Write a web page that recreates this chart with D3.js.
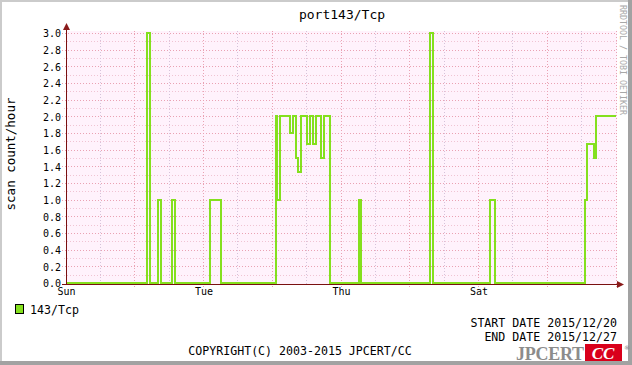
<!DOCTYPE html>
<html><head><meta charset="utf-8">
<script src="https://cdn.jsdelivr.net/npm/d3@7"></script>
<style>
body{margin:0;background:#fff}
svg{display:block}
text{font-family:"DejaVu Sans Mono",monospace}
</style>
</head><body>
<svg id="c" width="632" height="365"></svg>
<script>
// ---------- data ----------
const chartTitle = "port143/Tcp";
const yAxisTitle = "scan count/hour";
const seriesName = "143/Tcp";
// change points: hours since Sun 2015-12-20 00:00, value held from that hour on
const stepHours  = [0, 28.3, 29.2, 32.1, 33.05, 37.0, 37.95, 50.25, 54.0,
                    73.4, 73.7, 74.85, 78.2, 79.15, 80.3, 81.15, 81.9, 84.25, 85.2,
                    86.35, 87.3, 89.1, 90.05, 92.15, 102.4, 103.1, 127.1, 128.0,
                    148.0, 149.85, 181.2, 182.05, 184.3, 185.0, 192];
const stepValues = [0, 3, 0, 1, 0, 1, 0, 1, 0,
                    2, 1, 2, 1.8, 2, 1.5, 1.33, 2, 1.67, 2,
                    1.67, 2, 1.5, 2, 0, 1, 0, 3, 0,
                    1, 0, 1, 1.67, 1.5, 2, 2];
const dayTickHours  = [0, 48, 96, 144];
const dayTickLabels = ["Sun", "Tue", "Thu", "Sat"];
const yTickValues   = [0, 0.2, 0.4, 0.6, 0.8, 1.0, 1.2, 1.4, 1.6, 1.8, 2.0, 2.2, 2.4, 2.6, 2.8, 3.0];
const startDateText = "START DATE 2015/12/20";
const endDateText   = "END DATE 2015/12/27";
const copyrightText = "COPYRIGHT(C) 2003-2015 JPCERT/CC";
const watermarkText = "RRDTOOL / TOBI OETIKER";

// ---------- drawing ----------
const svg = d3.select("#c");
const W = 632, H = 365;
const L = 66, R = 616, T = 33, B = 283;
const x = d3.scaleLinear().domain([0, 192]).range([L, R]);
const y = d3.scaleLinear().domain([0, 3]).range([B, T]);

svg.append("rect").attr("width", W).attr("height", H).attr("fill", "#fff");
// frame
svg.append("rect").attr("x",0).attr("y",0).attr("width",W).attr("height",2).attr("fill","#cbcbcb");
svg.append("rect").attr("x",0).attr("y",0).attr("width",2).attr("height",H).attr("fill","#cbcbcb");
svg.append("rect").attr("x",W-4).attr("y",0).attr("width",4).attr("height",H).attr("fill","#a2a2a2");
svg.append("rect").attr("x",0).attr("y",H-4).attr("width",W).attr("height",4).attr("fill","#a2a2a2");

// canvas
svg.append("rect").attr("x", L).attr("y", 31).attr("width", R + 1 - L).attr("height", B + 1 - 31)
  .attr("fill", "#fff2fc");

const grid = svg.append("g").attr("shape-rendering", "crispEdges");
// horizontal grid every 0.1
d3.range(1, 31).forEach(i => {
  const v = i / 10, major = i % 2 === 0;
  const yy = Math.round(y(v)) + 0.5;
  grid.append("line").attr("x1", major ? 62 : 64).attr("x2", R + 1).attr("y1", yy).attr("y2", yy)
    .attr("stroke", major ? "#eaa2b3" : "#f0c4d3").attr("stroke-dasharray", "1,2");
});
// vertical grid every 12 h
d3.range(1, 17).forEach(i => {
  const h = i * 12, major = i % 2 === 0;
  const xx = Math.floor(x(h)) + 0.5;
  grid.append("line").attr("x1", xx).attr("x2", xx).attr("y1", 31).attr("y2", major ? 287 : B + 1)
    .attr("stroke", major ? "#eaa2b3" : "#d6c2da").attr("stroke-dasharray", "1,2");
});

// data line
const pts = stepHours.map((h, i) => [h, stepValues[i]]);
svg.append("path").datum(pts)
  .attr("d", d3.line().x(d => x(d[0])).y(d => y(d[1])).curve(d3.curveStepAfter))
  .attr("fill", "none").attr("stroke", "#84e01e").attr("stroke-width", 2)
  .attr("shape-rendering", "crispEdges");

// axes lines + arrows
const axisCol = "#7a1010";
svg.append("line").attr("x1", L + 0.5).attr("x2", L + 0.5).attr("y1", B + 2).attr("y2", 27)
  .attr("stroke", axisCol).attr("shape-rendering", "crispEdges");
svg.append("line").attr("x1", 62).attr("x2", 619).attr("y1", B + 1.5).attr("y2", B + 1.5)
  .attr("stroke", axisCol).attr("shape-rendering", "crispEdges");
svg.append("path").attr("d", `M${L - 3},${30} L${L + 0.5},${23} L${L + 4},${30} Z`).attr("fill", "#8a1a1a");
svg.append("path").attr("d", `M${617},${B - 2} L${624},${B + 1.5} L${617},${B + 5} Z`).attr("fill", "#8a1a1a");

// y ticks
const yAxis = d3.axisLeft(y).tickValues(yTickValues).tickFormat(d3.format(".1f")).tickSize(0).tickPadding(0);
const gy = svg.append("g").attr("transform", `translate(${L - 5},0.5)`).call(yAxis);
gy.select(".domain").remove();
gy.selectAll("text").attr("font-size", "10px").attr("font-family", "DejaVu Sans Mono").attr("fill", "#000");

// x ticks
const xAxis = d3.axisBottom(x).tickValues(dayTickHours).tickFormat((d, i) => dayTickLabels[i]).tickSize(0).tickPadding(0);
const gx = svg.append("g").attr("transform", `translate(0,${B + 5})`).call(xAxis);
gx.select(".domain").remove();
gx.selectAll("text").attr("font-size", "10px").attr("font-family", "DejaVu Sans Mono").attr("fill", "#000").attr("dy", "0.71em");

// title
svg.append("text").attr("x", 342).attr("y", 19).attr("text-anchor", "middle")
  .attr("font-size", "13px").text(chartTitle);
// y title
svg.append("text").attr("transform", "translate(15,154) rotate(-90)").attr("text-anchor", "middle")
  .attr("font-size", "12.5px").text(yAxisTitle);

// watermark
svg.append("text").attr("transform", "translate(620,5) rotate(90)")
  .attr("font-size", "8.3px").attr("fill", "#a8a8a8").text(watermarkText);

// legend
svg.append("rect").attr("x", 15.5).attr("y", 304.5).attr("width", 8).attr("height", 9)
  .attr("fill", "#84e01e").attr("stroke", "#000");
svg.append("text").attr("x", 30).attr("y", 314).attr("font-size", "11.6px").text(seriesName);

// footer
svg.append("text").attr("x", 617).attr("y", 327).attr("text-anchor", "end").attr("font-size", "11.6px").text(startDateText);
svg.append("text").attr("x", 617).attr("y", 341).attr("text-anchor", "end").attr("font-size", "11.6px").text(endDateText);
svg.append("text").attr("x", 300).attr("y", 355).attr("text-anchor", "middle").attr("font-size", "11.6px").text(copyrightText);

// logo
svg.append("text").attr("x", 516).attr("y", 360).style("font-family", "'Liberation Serif','DejaVu Serif',serif")
  .attr("font-weight", "bold").attr("font-size", "18px").attr("fill", "#8c8c8c")
  .attr("textLength", 68).text("JPCERT");
svg.append("rect").attr("x", 585).attr("y", 344).attr("width", 37).attr("height", 17).attr("fill", "#d9001b");
svg.append("text").attr("x", 603).attr("y", 359).attr("text-anchor", "middle").style("font-family", "'Liberation Serif','DejaVu Serif',serif")
  .attr("font-weight", "bold").attr("font-style", "italic").attr("font-size", "17px").attr("fill", "#fff").text("CC");
svg.append("text").attr("x", 624).attr("y", 350).style("font-family", "'DejaVu Sans',sans-serif").attr("font-size", "6px")
  .attr("fill", "#777").text("®");
</script>
</body></html>
